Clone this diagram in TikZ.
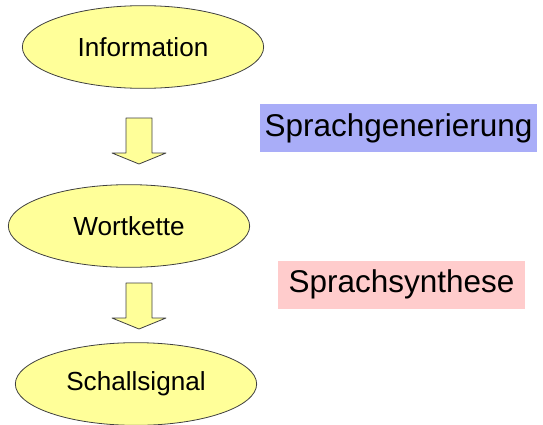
\documentclass[tikz,border=0pt]{standalone}
\usepackage{fontspec}
\setmainfont{Liberation Sans}
\usetikzlibrary{shapes.geometric}
\definecolor{gelb}{HTML}{FFFF99}
\definecolor{blau}{HTML}{A9ADF8}
\definecolor{rosa}{HTML}{FFCCCC}
\begin{document}
\begin{tikzpicture}[x=0.75pt,y=-0.75pt,line join=round,
    stufe/.style={ellipse,draw=black!75,fill=gelb,line width=0.6pt,
      minimum width=181pt,minimum height=62pt,inner sep=0pt,
      font=\fontsize{19.6}{23}\selectfont},
    etikett/.style={rectangle,inner sep=0pt,minimum height=36pt,
      font=\fontsize{23.6}{27}\selectfont},
    pfeil/.style={draw=black!75,fill=gelb,line width=0.6pt}]
  \useasboundingbox (0,0) rectangle (543,425);
  \node[stufe] (info) at (143,47) {Information};
  \node[stufe] (wort) at (129,226) {Wortkette};
  \node[stufe] (schall) at (136,384) {Schallsignal};
  \node[etikett,fill=blau,minimum width=207.75pt] (gen) at (398.5,128) {Sprachgenerierung};
  \node[etikett,fill=rosa,minimum width=185.25pt] (syn) at (401.5,284.5) {Sprachsynthese};
  % Blockpfeile
  \foreach \oben in {118,283}
    \draw[pfeil] (126,\oben) -- ++(26,0) -- ++(0,35) -- ++(14,0)
      -- ++(-27,11) -- ++(-27,-11) -- ++(14,0) -- cycle;
\end{tikzpicture}
\end{document}
